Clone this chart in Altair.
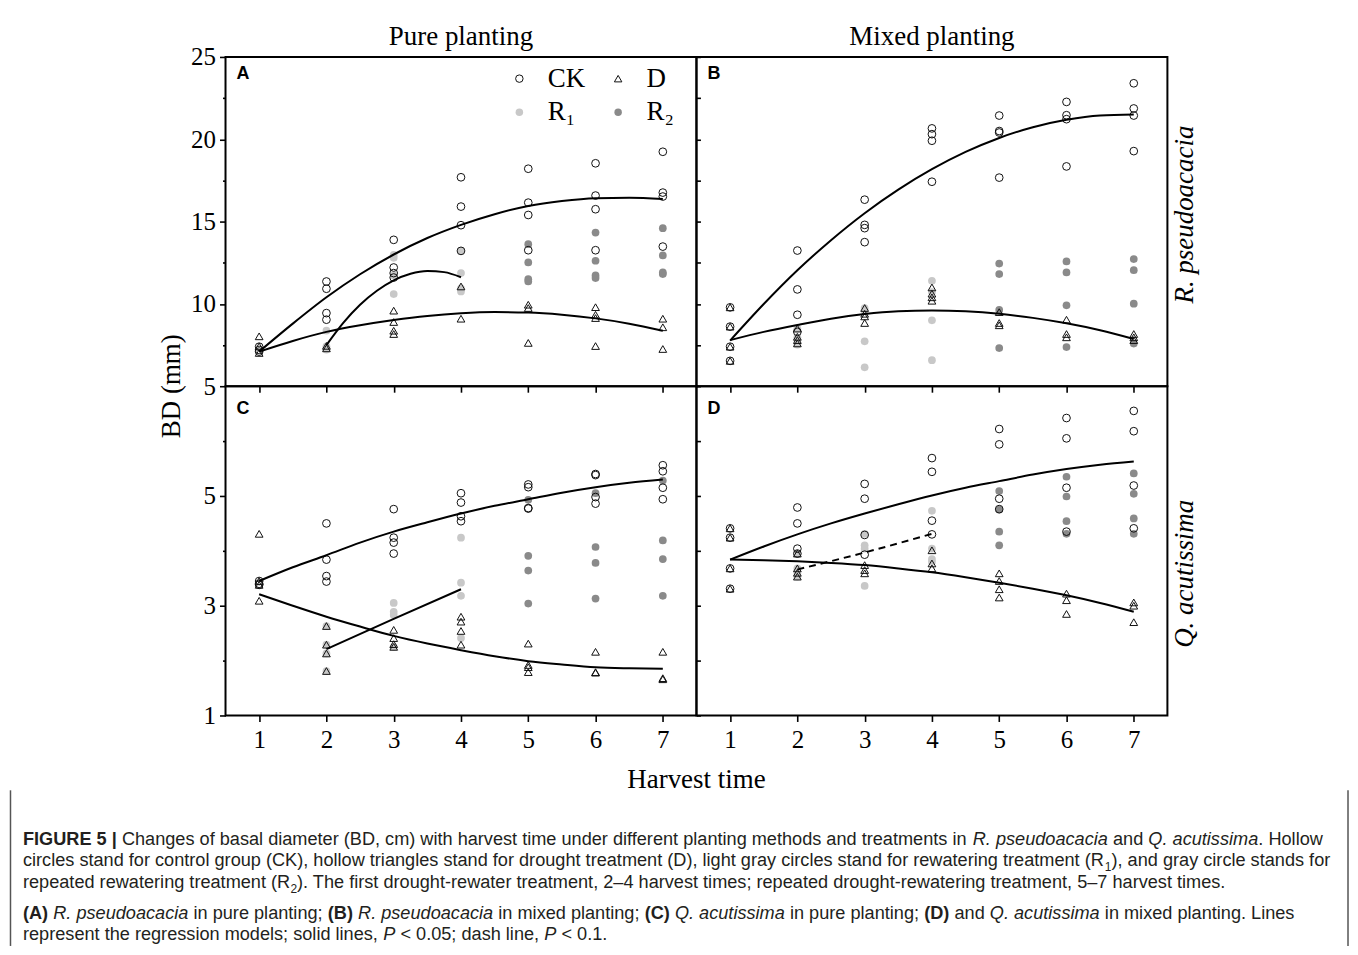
import altair as alt
import pandas as pd

SERIF = "Liberation Serif"
SANS = "Liberation Sans"

# ---------------- data ----------------
HARVEST = [1, 2, 3, 4, 5, 6, 7]
R1_TIMES = [2, 3, 4]
R2_TIMES = [5, 6, 7]
GROUPS = ["CK", "D", "R₁", "R₂"]
SHAPES = ["circle", "triangle-up", "circle", "circle"]
FILLS = ["transparent", "transparent", "#c8c8c8", "#8a8a8a"]
STROKES = ["#111111", "#111111", "transparent", "transparent"]

TOP_DOMAIN = [5, 25]
TOP_TICKS = [5, 7.5, 10, 12.5, 15, 17.5, 20, 22.5, 25]
TOP_LABELLED = [5, 10, 15, 20, 25]
BOT_DOMAIN = [1, 7]
BOT_TICKS = [1, 2, 3, 4, 5, 6]
BOT_LABELLED = [1, 3, 5]

# Panel A  (R. pseudoacacia, pure planting)
A_CK = [[7.4, 7.2, 7.1], [11.36, 10.92, 9.44, 9.04], [13.89, 12.21, 11.87, 11.6],
        [17.69, 15.91, 14.78, 13.22], [18.21, 16.15, 15.4, 13.26],
        [18.54, 16.58, 15.75, 13.26], [19.24, 16.76, 16.52, 13.48]]
A_D = [[8.03, 7.42, 7.02], [7.45, 7.3], [9.59, 8.9, 8.37, 8.17], [11.06, 9.1],
       [9.95, 9.75, 7.63], [9.8, 9.34, 9.14, 7.44], [9.1, 8.58, 7.26]]
A_R1 = [[8.37, 7.42, 7.3, 7.22], [12.98, 12.8, 11.73, 10.6], [13.22, 11.87, 10.95, 10.76]]
A_R2 = [[13.63, 12.52, 11.5, 11.36], [14.33, 12.62, 11.73, 11.57], [14.6, 12.94, 11.91, 11.81]]

# Panel B  (R. pseudoacacia, mixed planting)
B_CK = [[9.79, 8.62, 7.4, 6.54], [13.24, 10.88, 9.34, 8.3], [16.33, 14.8, 14.6, 13.75],
        [20.66, 20.31, 19.91, 17.42], [21.44, 20.5, 20.41, 17.67],
        [22.27, 21.46, 21.22, 18.35], [23.4, 21.87, 21.44, 19.28]]
B_D = [[9.79, 8.62, 7.4, 6.54], [8.5, 8.0, 7.8, 7.6], [9.75, 9.4, 9.24, 8.84],
       [11.0, 10.62, 10.4, 10.19], [9.5, 8.84, 8.7], [9.04, 8.17, 7.97], [8.17, 7.97, 7.8]]
B_R1 = [[8.5, 7.97, 7.8, 7.52], [9.75, 9.6, 7.73, 6.15], [11.4, 10.72, 9.0, 6.58]]
B_R2 = [[12.45, 11.81, 9.63, 7.32], [12.58, 11.91, 9.91, 7.38], [12.72, 12.05, 10.01, 7.59]]

# Panel C  (Q. acutissima, pure planting)
C_CK = [[3.45, 3.4, 3.38], [4.5, 3.84, 3.54, 3.44], [4.76, 4.24, 4.15, 3.95],
        [5.05, 4.88, 4.63, 4.54], [5.21, 5.16, 4.78, 4.77], [5.4, 5.38, 4.98, 4.86],
        [5.56, 5.45, 5.15, 4.94]]
C_D = [[4.31, 3.45, 3.38, 3.09], [2.63, 2.29, 2.13, 1.81], [2.56, 2.41, 2.3, 2.25],
       [2.8, 2.71, 2.54, 2.29], [2.31, 1.92, 1.88, 1.79], [2.16, 1.79, 1.78], [2.16, 1.68, 1.66]]
C_R1 = [[2.63, 2.29, 2.13, 1.81], [3.05, 2.89, 2.83, 2.25], [4.24, 3.42, 3.18, 2.41]]
C_R2 = [[4.93, 3.91, 3.64, 3.04], [5.05, 4.07, 3.78, 3.13], [5.28, 4.19, 3.85, 3.18]]

# Panel D  (Q. acutissima, mixed planting)
D_CK = [[4.41, 4.24, 3.68, 3.31], [4.79, 4.5, 4.04, 3.95], [5.22, 4.95, 4.29, 3.93],
        [5.69, 5.44, 4.55, 4.3], [6.22, 5.94, 4.95, 4.76], [6.42, 6.05, 5.15, 4.35],
        [6.55, 6.18, 5.19, 4.41]]
D_D = [[4.41, 4.24, 3.68, 3.31], [3.95, 3.68, 3.6, 3.53], [3.74, 3.65, 3.59],
       [4.01, 3.77, 3.68], [3.59, 3.45, 3.3, 3.15], [3.22, 3.1, 2.85], [3.06, 3.0, 2.7]]
D_R1 = [[3.95, 3.68, 3.6, 3.53], [4.31, 4.1, 4.04, 3.36], [4.73, 4.04, 3.85, 3.8]]
D_R2 = [[5.09, 4.75, 4.35, 4.1], [5.35, 4.99, 4.54, 4.31], [5.41, 5.04, 4.59, 4.31]]

# regression curves
FIT_X = [1.0, 1.5, 2.0, 2.5, 3.0, 3.5, 4.0, 4.5, 5.0, 5.5, 6.0, 6.5, 7.0]
A_FIT_CK = [7.1, 8.8, 10.4, 11.8, 13.0, 14.0, 14.8, 15.45, 15.95, 16.25, 16.42, 16.45, 16.37]
A_FIT_D = [7.1, 7.75, 8.3, 8.7, 9.02, 9.27, 9.43, 9.5, 9.47, 9.34, 9.12, 8.8, 8.37]
A_FIT_R1_X = [2.0, 2.25, 2.5, 2.75, 3.0, 3.25, 3.5, 3.75, 4.0]
A_FIT_R1 = [7.5, 8.85, 9.95, 10.8, 11.43, 11.83, 12.0, 11.93, 11.62]
B_FIT_CK = [7.77, 9.99, 12.04, 13.87, 15.51, 16.94, 18.18, 19.23, 20.08, 20.73, 21.18, 21.44, 21.5]
B_FIT_D = [7.8, 8.3, 8.72, 9.1, 9.38, 9.55, 9.6, 9.55, 9.4, 9.15, 8.82, 8.4, 7.87]
C_FIT_CK = [3.45, 3.7, 3.92, 4.15, 4.35, 4.52, 4.68, 4.82, 4.94, 5.06, 5.16, 5.24, 5.3]
C_FIT_D = [3.21, 3.0, 2.8, 2.62, 2.45, 2.31, 2.19, 2.08, 1.99, 1.93, 1.88, 1.86, 1.85]
LIN_X = [2.0, 3.0, 4.0]
C_FIT_R1 = [2.21, 2.76, 3.3]
D_FIT_CK = [3.84, 4.08, 4.3, 4.5, 4.68, 4.85, 5.01, 5.15, 5.27, 5.39, 5.49, 5.57, 5.63]
D_FIT_D = [3.84, 3.83, 3.81, 3.78, 3.74, 3.68, 3.61, 3.52, 3.42, 3.31, 3.19, 3.05, 2.89]
D_FIT_R1 = [3.66, 3.97, 4.31]

CAPTION = [
    "**FIGURE 5 |** Changes of basal diameter (BD, cm) with harvest time under different planting methods and treatments in *R. pseudoacacia* and *Q. acutissima*. Hollow",
    "circles stand for control group (CK), hollow triangles stand for drought treatment (D), light gray circles stand for rewatering treatment (R₁), and gray circle stands for",
    "repeated rewatering treatment (R₂). The first drought-rewater treatment, 2–4 harvest times; repeated drought-rewatering treatment, 5–7 harvest times.",
    "**(A)** *R. pseudoacacia* in pure planting; **(B)** *R. pseudoacacia* in mixed planting; **(C)** *Q. acutissima* in pure planting; **(D)** and *Q. acutissima* in mixed planting. Lines",
    "represent the regression models; solid lines, *P* < 0.05; dash line, *P* < 0.1.",
]
CAPTION_Y = [838, 859.5, 881, 912, 933.5]

# ---------------- helpers ----------------
W, H = 472, 330
CAP_SIZE = 18.2
SUB_SIZE = 12

_W = {}
for w, chars in [(222, "ijl"), (278, " !,./:;ftI"), (333, "()-r"), (500, "cksvxyzJ"),
                 (556, "abdeghnopqu0123456789L–"), (584, "<>="), (611, "FTZ"),
                 (667, "ABEKPSVXY"), (722, "CDHNRUw"), (778, "GOQ"), (833, "mM"),
                 (944, "W"), (260, "|")]:
    for c in chars:
        _W[c] = w / 1000.0


def text_width(s, style):
    if style == "s":
        return 0.556 * SUB_SIZE * len(s)
    tot = 0.0
    for c in s:
        v = _W.get(c, 0.55)
        if style == "b" and c in "AB":
            v = 0.722
        if style == "b" and c == "|":
            v = 0.28
        tot += v
    return tot * CAP_SIZE


def parse_line(line):
    pieces, style, buf, i = [], "r", "", 0
    while i < len(line):
        if line.startswith("**", i):
            pieces.append((style, buf)); buf = ""
            style = "r" if style == "b" else "b"; i += 2; continue
        if line[i] == "*":
            pieces.append((style, buf)); buf = ""
            style = "r" if style == "i" else "i"; i += 1; continue
        if line[i] in "₁₂":
            pieces.append((style, buf)); buf = ""
            pieces.append(("s", "1" if line[i] == "₁" else "2")); i += 1; continue
        buf += line[i]; i += 1
    pieces.append((style, buf))
    return [p for p in pieces if p[1]]


def caption_rows(x0, y0):
    rows = []
    for line, yc in zip(CAPTION, CAPTION_Y):
        x = 21.0
        for style, s in parse_line(line):
            lead = len(s) - len(s.lstrip(" "))
            txt_ = s.strip(" ")
            if txt_:
                xs = x + text_width(" " * lead, "r")
                yb = yc + 6.5 + (5 if style == "s" else 0)
                rows.append({"px": xs - x0, "py": yb - y0, "t": txt_, "style": style})
            x += text_width(s, style)
    return pd.DataFrame(rows)


def points_df(ck, d, r1, r2):
    rows = []
    for times, vals, g in [(R1_TIMES, r1, "R₁"), (R2_TIMES, r2, "R₂"),
                           (HARVEST, ck, "CK"), (HARVEST, d, "D")]:
        for t, vs in zip(times, vals):
            for v in vs:
                rows.append({"x": t, "y": v, "grp": g})
    return pd.DataFrame(rows)


def fits_df(curves):
    rows = []
    for name, xs, ys in curves:
        for a, b in zip(xs, ys):
            rows.append({"x": a, "y": b, "curve": name})
    return pd.DataFrame(rows)


def txt(text, x, y, size, font=SERIF, **kw):
    return alt.Chart(pd.DataFrame({"t": [text]})).mark_text(
        font=font, fontSize=size, color="black", **kw
    ).encode(text="t:N", x=alt.value(x), y=alt.value(y))


XS = alt.Scale(domain=[0.5, 7.5], nice=False, zero=False)


def make_panel(pts, fits, dashed, ydom, yticks, ylab, left, xlabels, legend, extras):
    ys = alt.Scale(domain=ydom, nice=False, zero=False)
    xax = alt.Axis(values=HARVEST, labels=xlabels, tickSize=6, tickWidth=1.6, tickColor="black",
                   domain=False, grid=False, title=None, labelFont=SERIF, labelFontSize=25,
                   labelColor="black", labelPadding=6, labelFlush=False, labelOverlap=False)
    if left:
        test = " || ".join(f"datum.value == {v}" for v in ylab)
        yax_l = alt.Axis(values=yticks, labelExpr=f"({test}) ? datum.label : ''",
                         tickSize={"condition": {"test": test, "value": 6}, "value": 3},
                         tickWidth=1.6, tickColor="black", domain=False, grid=False, title=None,
                         labelFont=SERIF, labelFontSize=25, labelColor="black", labelPadding=4,
                         labelFlush=False, labelOverlap=False)
        yax_r = alt.Axis(orient="right", values=yticks, labels=False, tickSize=4, tickWidth=1.6,
                         tickColor="black", domain=False, grid=False, title=None)
    else:
        yax_l = None
        yax_r = None
    leg = None
    if legend:
        leg = alt.Legend(orient="none", legendX=281, legendY=8, columns=2, direction="horizontal",
                         title=None, labelFont=SERIF, labelFontSize=27, labelColor="black",
                         labelOffset=15, columnPadding=19, rowPadding=6, symbolSize=56,
                         symbolStrokeWidth=1, padding=0)
    p = alt.Chart(pts).mark_point(size=60, strokeWidth=1, opacity=1).encode(
        x=alt.X("x:Q", scale=XS, axis=xax),
        y=alt.Y("y:Q", scale=ys, axis=yax_l),
        shape=alt.Shape("grp:N", scale=alt.Scale(domain=GROUPS, range=SHAPES), legend=leg),
        fill=alt.Fill("grp:N", scale=alt.Scale(domain=GROUPS, range=FILLS), legend=leg),
        stroke=alt.Stroke("grp:N", scale=alt.Scale(domain=GROUPS, range=STROKES), legend=leg),
    )
    ln = alt.Chart(fits).mark_line(color="black", strokeWidth=2, interpolate="monotone").encode(
        x=alt.X("x:Q", scale=XS, axis=xax),
        y=alt.Y("y:Q", scale=ys, axis=yax_r),
        detail="curve:N",
    )
    layers = [p, ln]
    if dashed is not None:
        layers.append(
            alt.Chart(dashed).mark_line(color="black", strokeWidth=2, strokeDash=[7, 5],
                                        interpolate="monotone").encode(
                x=alt.X("x:Q", scale=XS, axis=xax),
                y=alt.Y("y:Q", scale=ys, axis=None),
            )
        )
    layers += extras
    ch = alt.layer(*layers).properties(width=W, height=H)
    if left:
        ch = ch.resolve_axis(y="independent")
    return ch


# ---------------- panels ----------------
anchor = alt.Chart(pd.DataFrame({"a": [0]})).mark_rule(color="white", strokeWidth=1).encode(
    x=alt.value(0), x2=alt.value(2), y=alt.value(-46))

extras_a = [
    txt("A", 11, 22, 18, font=SANS, fontWeight="bold", align="left", baseline="alphabetic"),
    txt("Pure planting", 236, -20, 27, align="center", baseline="middle"),
    txt("BD (mm)", -54, 330, 27, angle=270, align="center", baseline="middle"),
    anchor,
]
extras_b = [
    txt("B", 11, 22, 18, font=SANS, fontWeight="bold", align="left", baseline="alphabetic"),
    txt("Mixed planting", 236, -20, 27, align="center", baseline="middle"),
    txt("R. pseudoacacia", 490, 158, 27, angle=270, fontStyle="italic", align="center",
        baseline="middle"),
]

cap = caption_rows(224, 385)
cap_layers = []
for style, kw in [("r", {}), ("i", {"fontStyle": "italic"}), ("b", {"fontWeight": "bold"}),
                  ("s", {})]:
    sub = cap[cap["style"] == style]
    if len(sub) == 0:
        continue
    cap_layers.append(
        alt.Chart(sub).mark_text(font=SANS, fontSize=(SUB_SIZE if style == "s" else CAP_SIZE),
                                 color="#231f20", align="left", baseline="alphabetic", **kw).encode(
            x=alt.X("px:Q", scale=None, axis=None),
            y=alt.Y("py:Q", scale=None, axis=None),
            text="t:N",
        )
    )
border = [
    alt.Chart(pd.DataFrame({"a": [0]})).mark_rule(color="#555555", strokeWidth=1.5).encode(
        x=alt.value(-215.5), y=alt.value(405), y2=alt.value(561)),
    alt.Chart(pd.DataFrame({"a": [0]})).mark_rule(color="#555555", strokeWidth=1.5).encode(
        x=alt.value(1125), y=alt.value(405), y2=alt.value(561)),
]
extras_c = [
    txt("C", 11, 28, 18, font=SANS, fontWeight="bold", align="left", baseline="alphabetic"),
    txt("Harvest time", 472, 395, 27, align="center", baseline="middle"),
] + border + cap_layers
extras_d = [
    txt("D", 11, 28, 18, font=SANS, fontWeight="bold", align="left", baseline="alphabetic"),
    txt("Q. acutissima", 490, 188, 27, angle=270, fontStyle="italic", align="center",
        baseline="middle"),
]

pa = make_panel(points_df(A_CK, A_D, A_R1, A_R2),
                fits_df([("CK", FIT_X, A_FIT_CK), ("D", FIT_X, A_FIT_D), ("R1", A_FIT_R1_X, A_FIT_R1)]),
                None, TOP_DOMAIN, TOP_TICKS, TOP_LABELLED, True, False, True, extras_a)
pb = make_panel(points_df(B_CK, B_D, B_R1, B_R2),
                fits_df([("CK", FIT_X, B_FIT_CK), ("D", FIT_X, B_FIT_D)]),
                None, TOP_DOMAIN, TOP_TICKS, TOP_LABELLED, False, False, False, extras_b)
pc = make_panel(points_df(C_CK, C_D, C_R1, C_R2),
                fits_df([("CK", FIT_X, C_FIT_CK), ("D", FIT_X, C_FIT_D), ("R1", LIN_X, C_FIT_R1)]),
                None, BOT_DOMAIN, BOT_TICKS, BOT_LABELLED, True, True, False, extras_c)
pd_ = make_panel(points_df(D_CK, D_D, D_R1, D_R2),
                 fits_df([("CK", FIT_X, D_FIT_CK), ("D", FIT_X, D_FIT_D)]),
                 fits_df([("R1", LIN_X, D_FIT_R1)]),
                 BOT_DOMAIN, BOT_TICKS, BOT_LABELLED, False, True, False, extras_d)

chart = alt.concat(pa, pb, pc, pd_, columns=2, spacing=0, bounds="flush").resolve_scale(
    x="independent", y="independent", shape="independent", fill="independent",
    stroke="independent"
).properties(padding=0, background="white").configure_view(stroke="black", strokeWidth=2)

chart.save("out.html", embed_options={"renderer": "svg", "actions": False})
